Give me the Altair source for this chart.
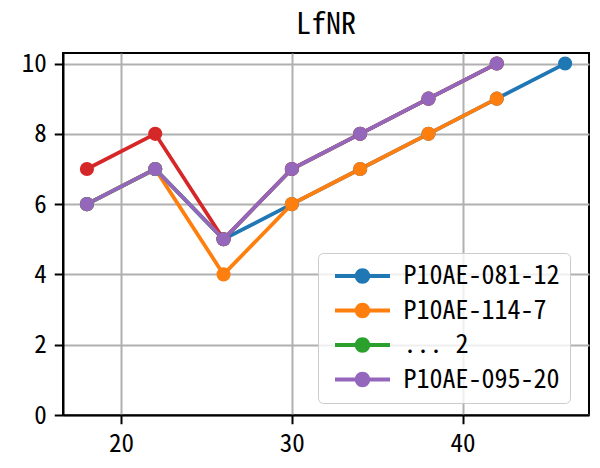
import altair as alt
import pandas as pd

x_vals = [18, 22, 26, 30, 34, 38, 42, 46]
names = ["P10AE-081-12", "P10AE-114-7", "... 2", "_nolegend_", "P10AE-095-20"]
colors = ["#1f77b4", "#ff7f0e", "#2ca02c", "#d62728", "#9467bd"]
s_blue = [6, 7, 5, 6, 7, 8, 9, 10]
s_orange = [6, 7, 4, 6, 7, 8, 9]
s_green = [6, 7, 5, 7, 8, 9, 10]
s_red = [7, 8, 5, 7, 8, 9, 10]
s_purple = [6, 7, 5, 7, 8, 9, 10]
x_ticks = [20, 30, 40]
y_ticks = [0, 2, 4, 6, 8, 10]
legend_names = [names[0], names[1], names[2], names[4]]

rows = []
for k, (n, ys) in enumerate(zip(names, [s_blue, s_orange, s_green, s_red, s_purple])):
    for i, (x, y) in enumerate(zip(x_vals, ys)):
        rows.append({"series": n, "k": k, "i": i, "x": x, "y": y})
df = pd.DataFrame(rows)

FONT = "'Noto Sans Mono CJK JP', 'DejaVu Sans Mono', monospace"
sym_path = ("M-5.5,-0.38L5.5,-0.38L5.5,0.38L-5.5,0.38Z "
            "M1.55,0A1.55,1.55 0 1,1 -1.55,0A1.55,1.55 0 1,1 1.55,0Z")

legend = alt.Legend(
    values=legend_names, title=None, orient="none", legendX=255, legendY=200,
    symbolType=sym_path, symbolSize=100, symbolStrokeWidth=0, symbolOpacity=1,
    symbolOffset=21.5, labelOffset=28, padding=10, rowPadding=8.5,
    strokeColor="#cccccc", cornerRadius=5, fillColor="rgba(255,255,255,0.8)",
    labelFontSize=26, labelFont=FONT, labelColor="black", labelLimit=400,
)
color_scale = alt.Scale(domain=names, range=colors)

x_enc = alt.X("x:Q", scale=alt.Scale(domain=[16.6, 47.4], nice=False, zero=False),
              axis=alt.Axis(values=x_ticks, title=None, format="d"))
y_enc = alt.Y("y:Q", scale=alt.Scale(domain=[0, 10.3], nice=False, zero=False),
              axis=alt.Axis(values=y_ticks, title=None, format="d"))

base = alt.Chart(df).encode(x=x_enc, y=y_enc)
lines = base.mark_line(strokeWidth=3.75).encode(
    order="i:Q", color=alt.Color("series:N", scale=color_scale, legend=legend))
points = base.mark_circle(size=200, opacity=1).encode(
    color=alt.Color("series:N", scale=color_scale, legend=legend))

chart = alt.layer(lines, points).properties(
    width=526, height=362,
    title=alt.TitleParams("LfNR", fontSize=30, font=FONT, fontWeight="normal",
                          color="black", offset=12, anchor="middle"),
    autosize=alt.AutoSizeParams(type="none"),
    padding={"left": 55, "top": 45, "right": 3, "bottom": 45},
).configure_view(
    stroke="black", strokeWidth=2
).configure_axis(
    domainColor="black", domainWidth=2, tickColor="black", tickWidth=2, tickSize=8.75,
    labelFontSize=25, labelFont=FONT, labelColor="black", labelPadding=8,
    gridColor="#b0b0b0", gridWidth=2, gridOpacity=1,
)

chart.save("out.html", embed_options={"renderer": "svg", "actions": False})
